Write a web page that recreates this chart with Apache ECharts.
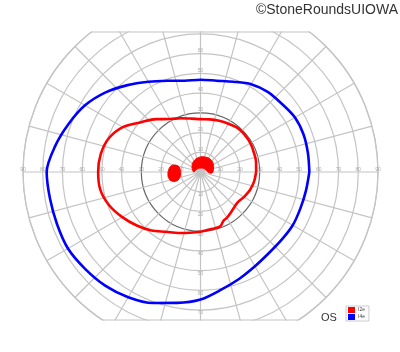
<!DOCTYPE html>
<html><head><meta charset="utf-8">
<script src="https://cdn.jsdelivr.net/npm/echarts@6/dist/echarts.min.js"></script>
<style>html,body{margin:0;padding:0;background:#fff}#c{width:400px;height:352px}</style>
</head><body><div id="c"></div>
<script>
// ---- data (visual field, degrees; angle 0 = right, counter-clockwise) ----
const isopterNames = ['I2e', 'I4e'];
const isopterColors = ['#ff0000', '#0000ff'];

const i2eAngles = [0,10,20,30,40,50,60,70,80,90,100,110,120,130,140,150,160,170,180,190,200,210,220,230,240,250,260,270,280,290,295,300,310,320,330,340,350,360];
const i2eRadii  = [28.2,28.6,28.8,29.2,29.3,29.2,28.3,27.6,27.1,26.8,27.5,29.0,31.0,35.0,39.3,45.5,49.6,51.4,51.9,51.6,49.3,45.8,42.2,38.7,35.0,32.9,31.3,30.3,29.5,29.3,27.4,26.8,25.2,24.3,25.4,26.7,27.6,28.2];

const i4eAngles = [0,10,20,30,40,50,60,70,80,90,100,110,120,130,140,150,160,170,180,190,200,210,220,230,240,250,260,270,280,290,300,310,320,330,340,350,360];
const i4eRadii  = [55.2,55.3,55.6,55.3,53.8,53.0,51.4,48.7,47.0,46.8,47.0,49.2,52.8,57.5,62.8,67.6,71.2,74.9,78.0,77.5,77.4,77.6,76.4,75.2,73.3,70.7,67.4,64.7,60.6,57.6,55.2,53.8,53.6,54.0,53.9,54.3,55.2];

// I2e filled areas (x, y in degrees)
const centralX = [-3.8,-4.3,-3.3,-0.8,2.3,4.8,6.3,6.6,5.8,3.8,2.3,0.3,-1.8,-3.3];
const centralY = [0.5,3.0,5.6,7.4,7.6,6.6,4.6,2.0,-0.5,0.0,1.5,2.0,1.5,0.0];
const blindSpotX = [-13.4,-11.4,-10.4,-10.1,-10.9,-12.4,-14.5,-16.0,-16.5,-16.0,-15.0];
const blindSpotY = [3.5,3.0,1.5,-1.0,-3.5,-4.6,-4.6,-3.3,-1.0,1.5,3.0];

const horizTicks = [10,20,30,40,50,60,70,80,90];
const vertTicks = [10,20,30,40,50,60,70];
const darkRing = 30;

// ---- layout ----
const cx = 200.5, cy = 172, R = 177.5, topY = 32, botY = 320;
const gridColor = '#c4c4c4';

const chart = echarts.init(document.getElementById('c'), null, {renderer: 'canvas'});

function toPolar(xs, ys) {
  return xs.map((x, i) => {
    const y = ys[i];
    return [Math.hypot(x, y), (Math.atan2(y, x) * 180 / Math.PI + 360) % 360];
  });
}
const blobs = [toPolar(centralX, centralY), toPolar(blindSpotX, blindSpotY)];

const splitColors = horizTicks.map(t => t === darkRing ? '#666666' : gridColor);
splitColors.unshift(gridColor);

function tickSeries(ticks, angle, offset) {
  return {
    type: 'scatter', coordinateSystem: 'polar', silent: true, z: 1,
    symbolSize: 0,
    data: ticks.map(t => [t, angle]),
    label: {show: true, position: 'inside', offset: offset, formatter: p => String(p.value[0]),
      fontSize: 5, color: '#9a9a9a', fontFamily: 'Liberation Sans'}
  };
}

const dxTop = Math.sqrt(R * R - (cy - topY) * (cy - topY));
const dxBot = Math.sqrt(R * R - (botY - cy) * (botY - cy));

chart.setOption({
  animation: false,
  backgroundColor: '#fff',
  polar: {center: [cx, cy], radius: R},
  angleAxis: {
    type: 'value', min: 0, max: 360, interval: 15, startAngle: 0, clockwise: false,
    axisLine: {show: true, lineStyle: {color: gridColor, width: 1.2}},
    axisTick: {show: false}, axisLabel: {show: false},
    splitLine: {show: true, lineStyle: {color: gridColor, width: 1.2}}
  },
  radiusAxis: {
    type: 'value', min: 0, max: 90, interval: 10,
    axisLine: {show: false}, axisTick: {show: false}, axisLabel: {show: false},
    splitLine: {show: true, lineStyle: {color: splitColors, width: 1.2}}
  },
  legend: {
    orient: 'vertical', left: 346, top: 306, itemWidth: 7, itemHeight: 6, itemGap: 1,
    padding: [1, 4, 1, 2], borderColor: '#cccccc', borderWidth: 1, icon: 'rect',
    data: isopterNames,
    textStyle: {fontSize: 5, color: '#444', fontFamily: 'Liberation Sans', padding: [0, 0, 0, -2]}
  },
  series: [
    tickSeries(horizTicks, 0, [0, -2]),
    tickSeries(horizTicks, 180, [0, -2]),
    tickSeries(vertTicks, 90, [0, -3]),
    tickSeries(vertTicks, 270, [0, 3]),
    {
      type: 'custom', coordinateSystem: 'polar', silent: true, z: 3,
      data: blobs.map(b => b[0]),
      renderItem: function (params, api) {
        const pts = blobs[params.dataIndex].map(p => api.coord(p));
        return {type: 'polygon', shape: {points: pts, smooth: 0.5},
          style: {fill: '#ff0000', stroke: '#ff0000', lineWidth: 1}};
      }
    },
    {
      name: isopterNames[0], type: 'line', coordinateSystem: 'polar', showSymbol: false, smooth: 0.3, z: 4,
      color: isopterColors[0], lineStyle: {color: isopterColors[0], width: 2.6},
      data: i2eAngles.map((a, i) => [i2eRadii[i], a])
    },
    {
      name: isopterNames[1], type: 'line', coordinateSystem: 'polar', showSymbol: false, smooth: 0.3, z: 4,
      color: isopterColors[1], lineStyle: {color: isopterColors[1], width: 2.6},
      data: i4eAngles.map((a, i) => [i4eRadii[i], a])
    }
  ],
  graphic: [
    {type: 'rect', z: 50, shape: {x: cx - dxTop - 3, y: 0, width: 2 * dxTop + 6, height: topY - 0.5}, style: {fill: '#fff'}},
    {type: 'rect', z: 50, shape: {x: cx - dxBot - 3, y: botY + 0.5, width: 2 * dxBot + 6, height: 352 - botY}, style: {fill: '#fff'}},
    {type: 'line', z: 51, shape: {x1: cx - dxTop, y1: topY, x2: cx + dxTop, y2: topY}, style: {stroke: gridColor, lineWidth: 1.2}},
    {type: 'line', z: 51, shape: {x1: cx - dxBot, y1: botY, x2: cx + dxBot, y2: botY}, style: {stroke: gridColor, lineWidth: 1.2}},
    {type: 'text', z: 60, right: 2, top: 3, style: {text: '©StoneRoundsUIOWA', fontSize: 14, fill: '#333', fontFamily: 'Liberation Sans'}},
    {type: 'text', z: 60, left: 321, top: 312, style: {text: 'OS', fontSize: 11, fill: '#333', fontFamily: 'Liberation Sans'}}
  ]
});
</script>
</body></html>
